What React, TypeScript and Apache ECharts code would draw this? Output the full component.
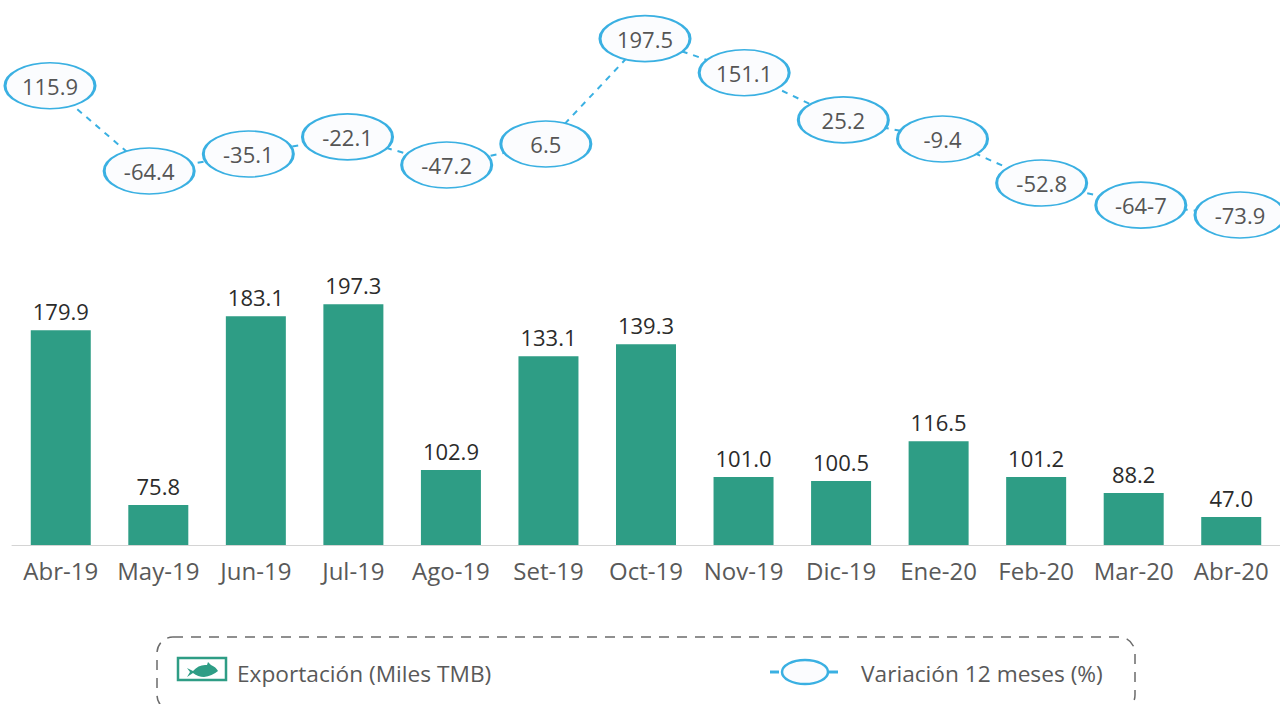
import React, { useEffect, useRef } from "react";
import * as echarts from "echarts";

const months = ["Abr-19", "May-19", "Jun-19", "Jul-19", "Ago-19", "Set-19", "Oct-19", "Nov-19", "Dic-19", "Ene-20", "Feb-20", "Mar-20", "Abr-20"];

// Figures printed on the reference.
const exportPrinted = ["179.9", "75.8", "183.1", "197.3", "102.9", "133.1", "139.3", "101.0", "100.5", "116.5", "101.2", "88.2", "47.0"];
const variationPrinted = ["115.9", "-64.4", "-35.1", "-22.1", "-47.2", "6.5", "197.5", "151.1", "25.2", "-9.4", "-52.8", "-64-7", "-73.9"];

// The reference's marks are not proportional to its printed figures, so the plotted
// levels are read from the drawn marks, in the units of each series' largest value.
const exportLevels = [176.0, 32.7, 187.5, 197.3, 61.4, 154.7, 164.6, 55.7, 52.4, 85.1, 55.7, 42.6, 22.9];
const variationLevels = [125.0, -6.2, 20.0, 46.3, 3.1, 35.5, 197.5, 145.0, 72.5, 43.2, -24.7, -58.7, -73.9];

const exportName = "Exportación (Miles TMB)";
const variationName = "Variación 12 meses (%)";

const FONT = "'Open Sans', 'Noto Sans', sans-serif";
const GREEN = "#2e9d85";
const BLUE = "#3ab0e2";
const ELLIPSE = "path://M0 23A45 23 0 1 1 90 23A45 23 0 1 1 0 23Z";

echarts.graphic.registerShape(
  "fishIcon",
  echarts.graphic.extendPath("M0 6L6 9Q12 2 20 3L21 0L24 3Q29 5 31 9Q25 14 17 15Q11 15 6 11L0 15L3 10Z", {})
);

export default function App() {
  const ref = useRef<HTMLDivElement>(null);
  useEffect(() => {
    const chart = echarts.init(ref.current!, undefined, { renderer: "svg" });
    chart.setOption({
      animation: false,
      backgroundColor: "#ffffff",
      grid: [
        { left: 12, width: 1271, top: 301, height: 244 },
        { left: 50, width: 1190, top: 37, height: 195 },
      ],
      xAxis: [
        {
          type: "category",
          gridIndex: 0,
          data: months,
          axisTick: { show: false },
          axisLine: { lineStyle: { color: "#d4d4d4", width: 1 } },
          axisLabel: { color: "#595959", fontFamily: FONT, fontSize: 24, margin: 13, interval: 0 },
        },
        { type: "category", gridIndex: 1, data: months, boundaryGap: false, show: false },
      ],
      yAxis: [
        { type: "value", gridIndex: 0, min: 0, max: 200, show: false },
        { type: "value", gridIndex: 1, min: -100, max: 200, show: false },
      ],
      series: [
        {
          name: exportName,
          type: "bar",
          xAxisIndex: 0,
          yAxisIndex: 0,
          barWidth: 60,
          itemStyle: { color: GREEN },
          label: { show: true, position: "top", distance: 8, color: "#2b2b2b", fontFamily: FONT, fontSize: 22 },
          data: exportLevels.map((v, i) => ({ value: v, label: { formatter: exportPrinted[i] } })),
        },
        {
          name: variationName,
          type: "line",
          xAxisIndex: 1,
          yAxisIndex: 1,
          clip: false,
          symbol: ELLIPSE,
          symbolSize: [90, 46],
          showAllSymbol: true,
          lineStyle: { color: BLUE, width: 2, type: [6, 6] },
          itemStyle: { color: "#fbfcfe", borderColor: BLUE, borderWidth: 2.2, opacity: 1 },
          label: { show: true, position: "inside", color: "#555555", fontFamily: FONT, fontSize: 22 },
          data: variationLevels.map((v, i) => ({ value: v, label: { formatter: variationPrinted[i] } })),
        },
      ],
      graphic: [
        {
          type: "rect",
          silent: true,
          shape: { x: 157, y: 637, width: 978, height: 74, r: 16 },
          style: { fill: "none", stroke: "#6b6b6b", lineWidth: 1.5, lineDash: [10, 8] },
        },
        {
          type: "rect",
          shape: { x: 178, y: 658, width: 48, height: 22 },
          style: { fill: "#ffffff", stroke: GREEN, lineWidth: 2.5 },
        },
        { type: "fishIcon", x: 187, y: 662, style: { fill: GREEN } },
        {
          type: "text",
          x: 237,
          y: 673,
          style: { text: exportName, fill: "#595959", font: `22.7px ${FONT}`, textVerticalAlign: "middle" },
        },
        { type: "line", shape: { x1: 770, y1: 672, x2: 779, y2: 672 }, style: { stroke: BLUE, lineWidth: 3 } },
        { type: "line", shape: { x1: 829, y1: 672, x2: 838, y2: 672 }, style: { stroke: BLUE, lineWidth: 3 } },
        {
          type: "ellipse",
          shape: { cx: 805, cy: 672, rx: 23, ry: 12 },
          style: { fill: "#fbfcfe", stroke: BLUE, lineWidth: 2.5 },
        },
        {
          type: "text",
          x: 861,
          y: 673,
          style: { text: variationName, fill: "#595959", font: `22.7px ${FONT}`, textVerticalAlign: "middle" },
        },
      ],
    });
    return () => chart.dispose();
  }, []);
  return <div ref={ref} style={{ position: "absolute", left: 0, top: 0, width: 1280, height: 704 }} />;
}
